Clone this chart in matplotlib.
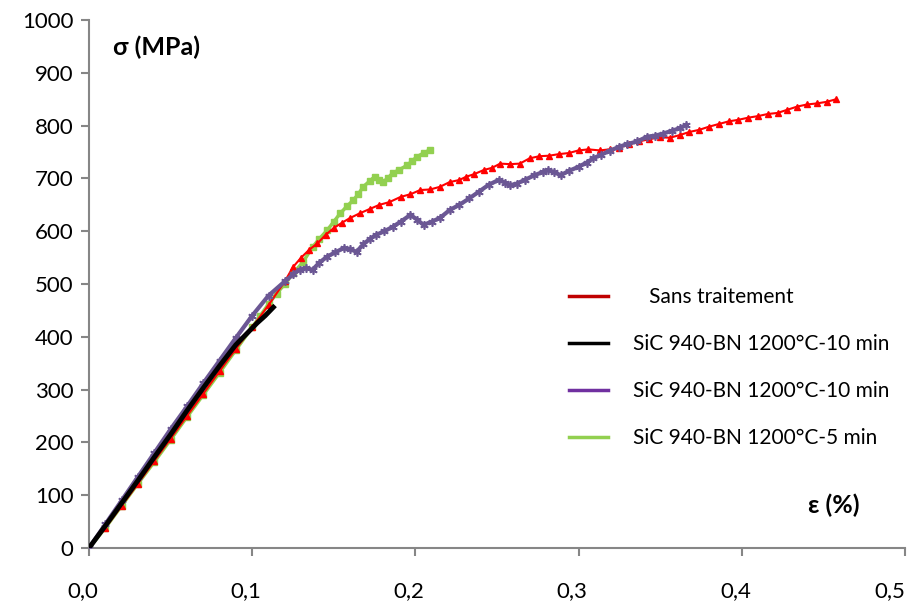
import matplotlib.pyplot as plt
from matplotlib.lines import Line2D
from matplotlib.transforms import ScaledTranslation

plt.rcParams['font.family'] = ['Lato', 'DejaVu Sans']

# Sans traitement
x_ref = [0, 0.01, 0.02, 0.03, 0.04, 0.05, 0.06, 0.07, 0.08, 0.09, 0.10, 0.11, 0.12, 0.125,
         0.13, 0.135, 0.14, 0.145, 0.15, 0.155, 0.16, 0.166, 0.172, 0.178, 0.184, 0.191,
         0.197, 0.203, 0.209, 0.215, 0.221, 0.227, 0.231, 0.236, 0.242, 0.247, 0.252, 0.258,
         0.264, 0.27, 0.276, 0.282, 0.288, 0.294, 0.3, 0.306, 0.313, 0.319, 0.325, 0.331,
         0.337, 0.343, 0.35, 0.356, 0.362, 0.368, 0.374, 0.38, 0.386, 0.392, 0.398, 0.404,
         0.41, 0.416, 0.422, 0.428, 0.434, 0.44, 0.446, 0.452, 0.458]
y_ref = [0, 38, 80, 122, 165, 207, 250, 292, 335, 377, 418, 460, 505, 532,
         550, 565, 577, 593, 606, 616, 625, 634, 642, 650, 655, 665,
         670, 678, 679, 684, 693, 697, 703, 708, 716, 720, 728, 727,
         728, 738, 742, 743, 746, 748, 753, 755, 753, 755, 758, 765,
         770, 774, 778, 777, 782, 788, 792, 798, 803, 808, 811, 815,
         818, 822, 824, 830, 836, 840, 842, 845, 850]

# SiC 940-BN 1200°C-10 min (noir)
x_10a = [0, 0.01, 0.02, 0.03, 0.04, 0.05, 0.06, 0.07, 0.08, 0.09, 0.097, 0.103, 0.108, 0.113]
y_10a = [0, 42, 85, 128, 172, 215, 260, 303, 345, 385, 407, 426, 440, 456]

# SiC 940-BN 1200°C-10 min (violet)
x_10b = [0, 0.01, 0.02, 0.03, 0.04, 0.05, 0.06, 0.07, 0.08, 0.09, 0.10, 0.11, 0.12, 0.125,
         0.129, 0.133, 0.137, 0.141, 0.146, 0.151, 0.156, 0.16, 0.164, 0.168, 0.172, 0.176,
         0.181, 0.186, 0.191, 0.197, 0.201, 0.205, 0.21, 0.215, 0.221, 0.227, 0.233, 0.239,
         0.245, 0.251, 0.255, 0.258, 0.262, 0.267, 0.273, 0.278, 0.281, 0.285, 0.289, 0.294,
         0.3, 0.305, 0.309, 0.314, 0.319, 0.325, 0.33, 0.336, 0.342, 0.347, 0.352, 0.357,
         0.362, 0.366]
y_10b = [0, 45, 90, 135, 180, 225, 268, 312, 355, 398, 440, 478, 505, 518,
         527, 530, 527, 540, 552, 560, 568, 566, 561, 575, 585, 593,
         600, 608, 618, 631, 622, 612, 618, 625, 640, 650, 662, 675,
         688, 697, 692, 687, 690, 697, 706, 712, 716, 712, 706, 714,
         722, 730, 738, 745, 752, 760, 765, 770, 779, 781, 785, 790,
         795, 801]

# SiC 940-BN 1200°C-5 min
x_5 = [0, 0.01, 0.02, 0.03, 0.04, 0.05, 0.06, 0.07, 0.08, 0.09, 0.10, 0.105, 0.11, 0.115,
       0.12, 0.125, 0.131, 0.137, 0.141, 0.146, 0.15, 0.154, 0.158, 0.162, 0.165, 0.168,
       0.172, 0.175, 0.178, 0.18, 0.183, 0.186, 0.19, 0.195, 0.198, 0.201, 0.205, 0.209]
y_5 = [0, 38, 80, 122, 163, 205, 248, 290, 332, 375, 418, 440, 462, 482,
       500, 520, 541, 570, 585, 602, 618, 634, 647, 659, 670, 684,
       695, 703, 697, 693, 700, 710, 716, 725, 733, 741, 748, 754]

labels = ['   Sans traitement', 'SiC 940-BN 1200°C-10 min',
          'SiC 940-BN 1200°C-10 min', 'SiC 940-BN 1200°C-5 min']
xticks = [0, 0.1, 0.2, 0.3, 0.4, 0.5]
xtick_labels = ['0,0', '0,1', '0,2', '0,3', '0,4', '0,5']

gray = '#868686'

fig = plt.figure(figsize=(9.14, 6.06), dpi=100)
ax = fig.add_axes([0.0974, 0.0957, 0.8926, 0.8713])

ax.plot(x_5, y_5, color='#92D050', lw=2.5, marker='s', ms=4, mec='#92D050', zorder=2)
ax.plot(x_ref, y_ref, color='#FF0000', lw=1.5, marker='^', ms=5, mec='#FF0000', zorder=3)
ax.plot(x_10b, y_10b, color='#6B5794', lw=3, marker=(6, 2, 0), ms=6, mew=1.2,
        mec='#6B5794', zorder=4)
ax.plot(x_10a, y_10a, color='black', lw=3.5, zorder=5)

ax.set_xlim(0, 0.5)
ax.set_ylim(0, 1000)
ax.set_yticks(range(0, 1001, 100))
ax.set_xticks(xticks)
ax.set_xticklabels(xtick_labels)

for s in ['top', 'right']:
    ax.spines[s].set_visible(False)
for s in ['left', 'bottom']:
    ax.spines[s].set_color(gray)
    ax.spines[s].set_linewidth(1.5)
ax.tick_params(axis='both', direction='out', length=6, width=1.5, color=gray,
               labelsize=16, labelcolor='black')
ax.tick_params(axis='x', pad=18)
ax.tick_params(axis='y', pad=5)

# labels sit a little left of their ticks, last one ends at the axis end
shift = ScaledTranslation(-4.5 / 72, 0, fig.dpi_scale_trans)
for lab in ax.get_xticklabels():
    lab.set_transform(lab.get_transform() + shift)
ax.get_xticklabels()[-1].set_horizontalalignment('right')
ax.get_xticklabels()[-1].set_transform(ax.get_xticklabels()[-1].get_transform()
                                       + ScaledTranslation(4.5 / 72, 0, fig.dpi_scale_trans))

ax.text(0.029, 0.949, 'σ (MPa)', transform=ax.transAxes, fontsize=18,
        fontweight='bold', va='center', ha='left')
ax.text(0.881, 0.081, 'ε (%)', transform=ax.transAxes, fontsize=18,
        fontweight='bold', va='center', ha='left')

handles = [Line2D([], [], color='#C00000', lw=2.5),
           Line2D([], [], color='black', lw=2.5),
           Line2D([], [], color='#7030A0', lw=2.5),
           Line2D([], [], color='#92D050', lw=2.5)]
ax.legend(handles, labels, loc='upper left', bbox_to_anchor=(0.565, 0.53), frameon=False,
          fontsize=15, handlelength=1.9, handletextpad=1.2, labelspacing=1.3)

fig.savefig('out.png', dpi=100)
